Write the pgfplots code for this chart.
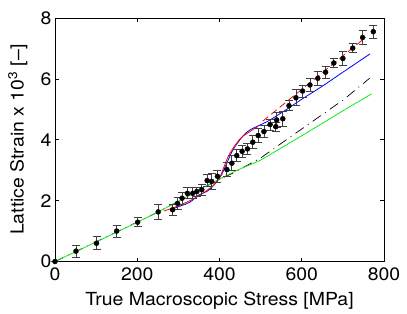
\documentclass[border=0pt]{standalone}
\usepackage{fontspec}
\setmainfont{TeX Gyre Heros}[FakeStretch=1.08]
\usepackage{pgfplots}
\usepackage{pgfplotstable}
\pgfplotsset{compat=1.18}
\definecolor{mgreen}{rgb}{0.1,0.9,0.1}
\pgfplotstableread{
x y e
0 0 0
51 0.34 0.2
101 0.60 0.21
150 1.00 0.2
201 1.29 0.15
251 1.63 0.25
286 1.70 0.18
298 1.91 0.2
309 2.08 0.2
322 2.24 0.18
335 2.24 0.18
345 2.30 0.15
357 2.36 0.18
370 2.66 0.2
381 2.63 0.26
395 2.80 0.2
418 3.02 0.22
430 3.23 0.25
442 3.48 0.2
455 3.62 0.2
468 3.70 0.17
481 3.92 0.22
494 4.14 0.22
508 4.27 0.2
523 4.50 0.18
537 4.43 0.15
539 4.65 0.25
554 4.69 0.25
569 5.12 0.16
586 5.38 0.26
602 5.60 0.2
620 5.80 0.22
639 6.02 0.22
658 6.22 0.2
678 6.52 0.15
700 6.67 0.24
724 7.01 0.15
748 7.36 0.22
774 7.55 0.21
}\pts
\begin{document}
\begin{tikzpicture}[x=1pt,y=1pt]
\useasboundingbox (-55,-52) rectangle (352,261.5);
\begin{axis}[
  at={(0,0)}, anchor=south west,
  scale only axis, width=329pt, height=243.5pt,
  xmin=0, xmax=800, ymin=0, ymax=8,
  xtick={0,200,...,800}, ytick={0,2,...,8},
  tick align=inside, major tick length=4pt,
  axis line style={line width=0.7pt},
  tick style={line width=0.6pt, black},
  /pgf/number format/assume math mode=true,
  tick label style={font=\fontsize{18}{20}\selectfont},
  xticklabel style={yshift=-3pt},
  label style={font=\fontsize{18}{20}\selectfont},
  xlabel={True Macroscopic Stress [MPa]},
  ylabel={Lattice Strain x 10\textsuperscript{3} [--]},
  xlabel style={at={(axis description cs:0.5,-0.160)}, anchor=center},
  ylabel style={at={(axis description cs:-0.113,0.5)}, anchor=center},
  clip=false,
]
\addplot[black, line width=0.7pt, dash pattern=on 10pt off 5pt on 1pt off 5pt] coordinates {
(0,0) (250,1.62) (390,2.63) (435,2.92) (500,3.4) (571,4.08) (701,5.31) (765,6.02)};
\addplot[mgreen, line width=0.8pt] coordinates {
(0,0) (100,0.64) (200,1.29) (250,1.62) (300,1.98) (350,2.35) (390,2.64) (440,2.98) (500,3.33) (600,4.13) (700,4.95) (770,5.51)};
\addplot[blue, line width=0.8pt, smooth] coordinates {
(280,1.70) (300,1.80) (328,1.95) (349,2.18) (369,2.30) (386,2.50) (393,2.62) (405,2.85) (417,3.21) (434,3.70) (458,4.14) (475,4.33) (490,4.43) (519,4.62) (560,4.97) (600,5.33) (650,5.76) (700,6.22) (766,6.82)};
\addplot[red, line width=0.8pt, smooth] coordinates {
(265,1.66) (300,1.83) (340,2.08) (381,2.45) (400,2.75) (412,3.15) (425,3.55) (450,4.03) (474,4.27) (494,4.44)};
\addplot[red, line width=0.8pt, dash pattern=on 7pt off 4pt] coordinates {
(505,4.61) (755,7.36)};
\addplot[only marks, mark=*, black, mark size=2.5pt,
  error bars/.cd, y dir=both, y explicit,
  error bar style={line width=0.8pt, black!75},
  error mark options={rotate=90, mark size=4pt, line width=0.8pt, black!75}]
  table[x=x, y=y, y error=e] {\pts};
\end{axis}
\end{tikzpicture}
\end{document}
